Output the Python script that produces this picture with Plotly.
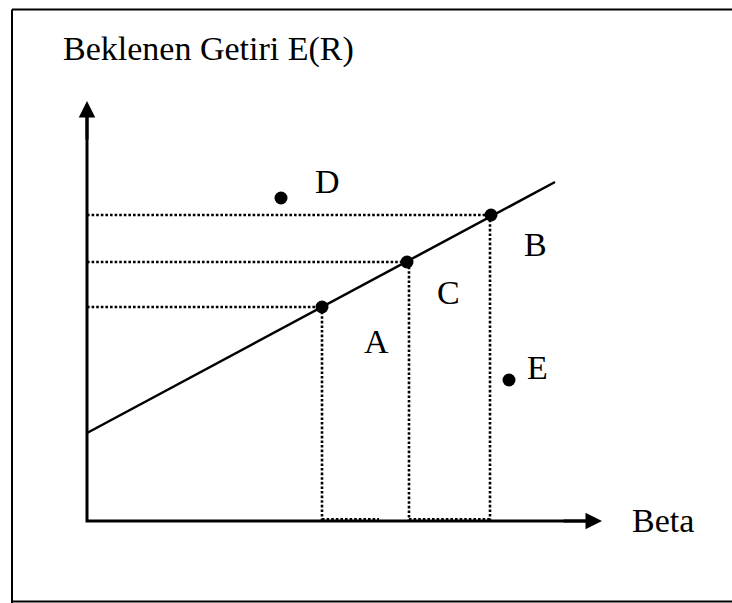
import plotly.graph_objects as go

# ---- data (beta, expected return) ----
point_names = ["A", "C", "B"]
point_beta = [0.5875, 0.80, 1.01]
point_er = [0.535, 0.6475, 0.765]

off_names = ["D", "E"]
off_beta = [0.485, 1.055]
off_er = [0.8075, 0.3525]

sml_beta = [0.0, 1.17]
sml_er = [0.22, 0.8475]

axis_x_max = 1.2875
axis_y_max = 1.05
bottom_dotted = [(0.5875, 0.73), (0.805, 1.0075)]
vert_dotted_beta = [0.5875, 0.805, 1.0075]

title_text = "Beklenen Getiri E(R)"
x_title = "Beta"

# label offsets in pixels (xshift, yshift)
label_shift = {"A": (54, -34), "C": (41, -30), "B": (44, -29), "D": (46, 17), "E": (28, 13)}

FONT = "Liberation Serif"
FS = 34
W, H = 732, 603
PX = 400.0               # pixels per unit
X0, Y0 = 87, 521         # origin position inside the figure

dot_line = dict(color="black", width=2.6, dash="2.6px,2px")

fig = go.Figure()

for b, r in zip(point_beta, point_er):
    fig.add_trace(go.Scatter(x=[0, b], y=[r, r], mode="lines", line=dot_line,
                             hoverinfo="skip", showlegend=False))
for vb, r in zip(vert_dotted_beta, point_er):
    fig.add_trace(go.Scatter(x=[vb, vb], y=[r, 0], mode="lines", line=dot_line,
                             hoverinfo="skip", showlegend=False))
for a, b in bottom_dotted:
    fig.add_trace(go.Scatter(x=[a, b], y=[0.004, 0.004], mode="lines", line=dot_line,
                             hoverinfo="skip", showlegend=False))

# SML
fig.add_trace(go.Scatter(x=sml_beta, y=sml_er, mode="lines",
                         line=dict(color="black", width=2.5),
                         hoverinfo="skip", showlegend=False))

# axes
fig.add_trace(go.Scatter(x=[0, 0, axis_x_max - 0.03], y=[axis_y_max - 0.03, 0, 0], mode="lines",
                         line=dict(color="black", width=3),
                         hoverinfo="skip", showlegend=False))

# points
fig.add_trace(go.Scatter(x=point_beta + off_beta, y=point_er + off_er, mode="markers",
                         marker=dict(color="black", size=13),
                         hoverinfo="skip", showlegend=False))

annotations = []
annotations.append(dict(x=0, y=axis_y_max, ax=0, ay=axis_y_max - 0.1, xref="x", yref="y",
                        axref="x", ayref="y", showarrow=True, arrowhead=2, arrowsize=1.1,
                        arrowwidth=3, arrowcolor="black", text="", standoff=0))
annotations.append(dict(x=axis_x_max, y=0, ax=axis_x_max - 0.1, ay=0, xref="x", yref="y",
                        axref="x", ayref="y", showarrow=True, arrowhead=2, arrowsize=1.1,
                        arrowwidth=3, arrowcolor="black", text="", standoff=0))

for n, b, r in zip(point_names + off_names, point_beta + off_beta, point_er + off_er):
    dx, dy = label_shift[n]
    annotations.append(dict(x=b, y=r, xref="x", yref="y", text=n, showarrow=False,
                            xshift=dx, yshift=dy, font=dict(family=FONT, size=FS, color="black")))

annotations.append(dict(x=61 / W, y=1 - 49 / H, xref="paper", yref="paper", text=title_text,
                        showarrow=False, xanchor="left", yanchor="middle",
                        font=dict(family=FONT, size=FS, color="black")))
annotations.append(dict(x=axis_x_max, y=0, xref="x", yref="y", text=x_title, showarrow=False,
                        xanchor="left", yanchor="middle", xshift=28, yshift=1,
                        font=dict(family=FONT, size=FS, color="black")))

shapes = [
    dict(type="line", xref="paper", yref="paper", x0=12 / W, x1=12 / W, y0=1 - 603 / H, y1=1 - 9.5 / H,
         line=dict(color="black", width=2)),
    dict(type="line", xref="paper", yref="paper", x0=12 / W, x1=1, y0=1 - 9.5 / H, y1=1 - 9.5 / H,
         line=dict(color="black", width=2)),
    dict(type="line", xref="paper", yref="paper", x0=12 / W, x1=1, y0=1 - 601.5 / H, y1=1 - 601.5 / H,
         line=dict(color="black", width=2)),
]

fig.update_layout(
    width=W, height=H,
    margin=dict(l=0, r=0, t=0, b=0),
    paper_bgcolor="white", plot_bgcolor="white",
    xaxis=dict(range=[-X0 / PX, (W - X0) / PX], visible=False, fixedrange=True),
    yaxis=dict(range=[(Y0 - H) / PX, Y0 / PX], visible=False, fixedrange=True),
    annotations=annotations, shapes=shapes,
    showlegend=False,
)

fig.write_html("out.html", config={"displayModeBar": False},
               post_script="document.body.style.margin='0';"
                           "document.documentElement.style.overflow='hidden';")
